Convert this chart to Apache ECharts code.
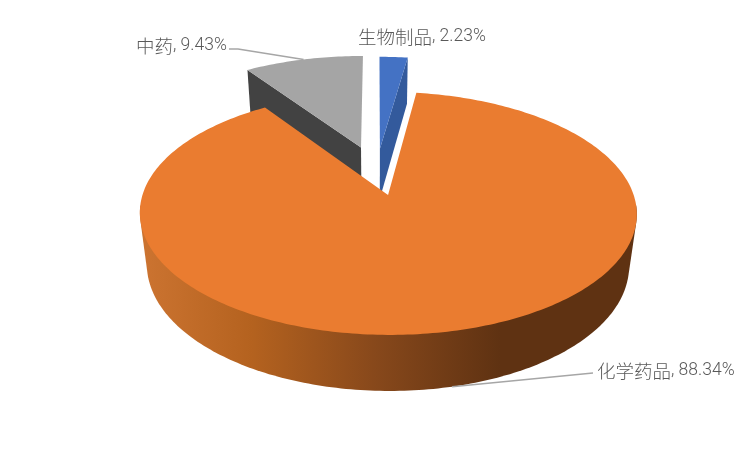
<!DOCTYPE html>
<html><head><meta charset="utf-8">
<style>html,body{margin:0;padding:0;background:#fff}#c{width:750px;height:450px}</style>
<script src="https://cdn.jsdelivr.net/npm/echarts@6/dist/echarts.min.js"></script>
</head><body><div id="c"></div>
<script>
const categories = ['生物制品', '化学药品', '中药'];
const values = [2.23, 88.34, 9.43];
const topColors = ['#4472C4', '#EA7C30', '#A5A5A5'];
const wallColors = ['#335A9C', '#5F3212', '#424242'];
const drawOrder = [2, 0, 1];

const labelLayout = [
  {x: 358, y: 37, explode: 0.21},
  {x: 597, y: 371, explode: 0.21, elbow: [593, 373]},
  {x: 136, y: 46, explode: 0.23, elbow: [238, 49], end: [229, 49]}
];

// projection of the tilted disc
const P = {x0: 376.5, y0: 195, K: 245.6, m: 118.7, q: 0.152, D: 53.4, r: 0.03, uShift: 0.205};
function project(x, z, h) {
  const u = z - P.uShift;
  const w = 1 - P.q * u + P.r * h;
  return [P.x0 + P.K * x / w, P.y0 + (P.m * u + P.D * h) / w];
}
const total = values.reduce((a, b) => a + b, 0);
const slices = [];
let acc = 0;
values.forEach((v, i) => {
  const s = acc / total * 360, e = (acc + v) / total * 360;
  slices.push({s, e, mid: (s + e) / 2, explode: labelLayout[i].explode});
  acc += v;
});
function pointOf(sl, deg, radius, h) {
  const rad = d => d * Math.PI / 180;
  const ox = Math.sin(rad(sl.mid)) * sl.explode, oz = -Math.cos(rad(sl.mid)) * sl.explode;
  return project(ox + Math.sin(rad(deg)) * radius, oz - Math.cos(rad(deg)) * radius, h);
}
function arc(sl, h, from, to) {
  const a = from === undefined ? sl.s : from, b = to === undefined ? sl.e : to;
  const pts = [];
  const n = Math.max(8, Math.ceil(b - a));
  for (let i = 0; i <= n; i++) pts.push(pointOf(sl, a + (b - a) * i / n, 1, h));
  return pts;
}
// outline of the front wall: the hull of the near part of the top and bottom rims
function hull(points) {
  const p = points.slice().sort((a, b) => a[0] - b[0] || a[1] - b[1]);
  const cross = (o, a, b) => (a[0] - o[0]) * (b[1] - o[1]) - (a[1] - o[1]) * (b[0] - o[0]);
  const half = list => {
    const out = [];
    list.forEach(q => {
      while (out.length > 1 && cross(out[out.length - 2], out[out.length - 1], q) <= 0) out.pop();
      out.push(q);
    });
    out.pop();
    return out;
  };
  return half(p).concat(half(p.slice().reverse()));
}
const sideGradient = () => new echarts.graphic.LinearGradient(146, 0, 500, 0, [
  {offset: 0, color: '#CB7330'},
  {offset: 0.3, color: '#B4621F'},
  {offset: 0.65, color: '#87481B'},
  {offset: 1, color: '#5F3212'}
], true);

function renderItem(params, api) {
  const i = api.value(0);
  const sl = slices[i];
  const top = [pointOf(sl, 0, 0, 0)].concat(arc(sl, 0));
  const kids = [];
  if (i === 1) {
    kids.push({type: 'polygon', shape: {points: hull(arc(sl, 0, 95, 265).concat(arc(sl, 1, 95, 265)))},
      style: {fill: sideGradient()}});
  } else {
    const edge = i === 0 ? sl.e : sl.s;
    kids.push({type: 'polygon', shape: {points: [
      pointOf(sl, edge, 1, 0), pointOf(sl, 0, 0, 0), pointOf(sl, 0, 0, 1), pointOf(sl, edge, 1, 1)
    ]}, style: {fill: wallColors[i]}});
  }
  kids.push({type: 'polygon', shape: {points: top}, style: {fill: topColors[i]}});
  const lay = labelLayout[i];
  if (lay.elbow) {
    const anchor = pointOf(sl, sl.mid, 1, i === 1 ? 1 : 0);
    const line = lay.end ? [anchor, lay.elbow, lay.end] : [anchor, lay.elbow];
    kids.push({type: 'polyline', shape: {points: line},
      style: {stroke: '#A6A6A6', lineWidth: 1.5, fill: 'none'}, z2: 5});
  }
  kids.push({type: 'text', z2: 6, style: {
    text: '{a|' + categories[i] + '}{b|, ' + api.value(1) + '%}', x: lay.x, y: lay.y,
    align: 'left', verticalAlign: 'middle',
    rich: {
      a: {fill: '#595959', fontSize: 18.5, fontWeight: 300, fontFamily: '"Noto Sans CJK SC", sans-serif'},
      b: {fill: '#595959', fontSize: 17.5, fontWeight: 300, fontFamily: 'Roboto, sans-serif'}
    }
  }});
  return {type: 'group', children: kids};
}
const chart = echarts.init(document.getElementById('c'), null, {renderer: 'canvas'});
chart.setOption({
  animation: false,
  backgroundColor: '#fff',
  series: [{
    type: 'custom', coordinateSystem: 'none', renderItem,
    data: drawOrder.map(i => [i, values[i]])
  }]
});
</script></body></html>
